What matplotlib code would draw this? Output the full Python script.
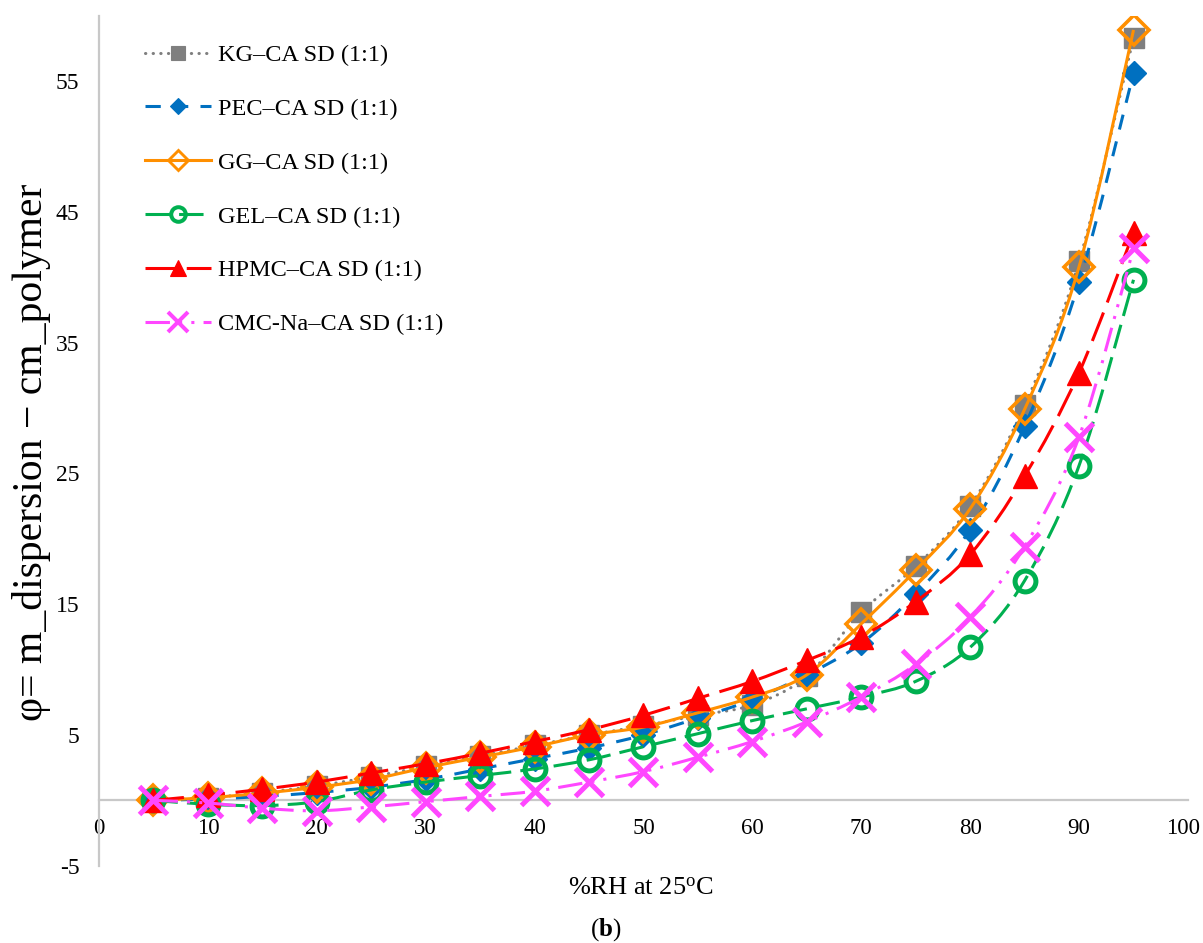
import numpy as np
import matplotlib
matplotlib.use('Agg')
import matplotlib.pyplot as plt
from matplotlib.path import Path
from matplotlib.patches import PathPatch
from matplotlib.lines import Line2D
from matplotlib.transforms import ScaledTranslation

# ---------------- data ----------------
rh = [5, 10, 15, 20, 25, 30, 35, 40, 45, 50, 55, 60, 65, 70, 75, 80, 85, 90, 95]
kg = [0, 0.2, 0.6, 1.1, 1.8, 2.6, 3.4, 4.2, 5.0, 5.7, 6.5, 7.3, 9.5, 14.4, 17.9, 22.5, 30.2, 41.2, 58.3]
pec = [0, 0.1, 0.3, 0.6, 1.0, 1.6, 2.4, 3.2, 4.0, 5.0, 6.3, 7.7, 9.6, 12.0, 15.8, 20.7, 28.6, 39.6, 55.6]
gg = [0, 0.2, 0.55, 1.0, 1.6, 2.5, 3.3, 4.1, 5.0, 5.6, 6.7, 7.9, 9.6, 13.5, 17.6, 22.3, 29.9, 40.8, 58.9]
gel = [0, -0.3, -0.4, -0.1, 0.8, 1.4, 1.9, 2.4, 3.1, 4.1, 5.1, 6.1, 7.0, 7.9, 9.1, 11.7, 16.8, 25.6, 39.8]
hpmc = [0, 0.4, 0.85, 1.4, 2.1, 2.8, 3.6, 4.5, 5.4, 6.5, 7.8, 9.1, 10.7, 12.5, 15.2, 18.8, 24.8, 32.7, 43.4]
cmc = [0, -0.2, -0.6, -0.8, -0.5, -0.1, 0.3, 0.7, 1.4, 2.2, 3.3, 4.5, 6.0, 7.9, 10.4, 14.0, 19.4, 27.8, 42.2]

labels = ["KG\u2013CA SD (1:1)", "PEC\u2013CA SD (1:1)", "GG\u2013CA SD (1:1)",
          "GEL\u2013CA SD (1:1)", "HPMC\u2013CA SD (1:1)", "CMC-Na\u2013CA SD (1:1)"]
x_ticks = [0, 10, 20, 30, 40, 50, 60, 70, 80, 90, 100]
y_ticks = [-5, 5, 15, 25, 35, 45, 55]

# ---------------- style ----------------
plt.rcParams['font.family'] = ['Liberation Serif', 'DejaVu Serif']
plt.rcParams['mathtext.fontset'] = 'custom'
plt.rcParams['mathtext.rm'] = 'Liberation Serif'
plt.rcParams['mathtext.bf'] = 'Liberation Serif:bold'
plt.rcParams['mathtext.it'] = 'Liberation Serif:italic'
plt.rcParams['axes.unicode_minus'] = False

styles = [
    dict(color='#7F7F7F', ls=(0, (0.1, 2.4)), cap='round', marker='s', ms=14, mfc='#7F7F7F', mec='#7F7F7F', mew=1),
    dict(color='#0070C0', ls=(0, (5, 4)), cap='butt', marker='D', ms=12, mfc='#0070C0', mec='#0070C0', mew=1),
    dict(color='#FF8F00', ls='-', cap='butt', marker='D', ms=15, mfc='none', mec='#FF8F00', mew=2.6),
    dict(color='#00B050', ls=(0, (8, 3)), cap='butt', marker='o', ms=15, mfc='none', mec='#00B050', mew=3.6),
    dict(color='#FF0000', ls=(0, (10, 3.5)), cap='butt', marker='^', ms=17, mfc='#FF0000', mec='#FF0000', mew=1),
    dict(color='#FF47FF', ls=(0, (8, 3, 1, 3, 1, 3)), cap='butt', marker='x', ms=20, mfc='#FF47FF', mec='#FF47FF', mew=3.6),
]
series = [kg, pec, gg, gel, hpmc, cmc]
LW = 2.2


def smooth_path(x, y):
    pts = np.column_stack([x, y]).astype(float)
    n = len(pts)
    verts = [pts[0]]
    codes = [Path.MOVETO]
    for i in range(n - 1):
        p0 = pts[i - 1] if i > 0 else pts[i]
        p1 = pts[i]
        p2 = pts[i + 1]
        p3 = pts[i + 2] if i + 2 < n else pts[i + 1]
        verts += [p1 + (p2 - p0) / 6.0, p2 - (p3 - p1) / 6.0, p2]
        codes += [Path.CURVE4] * 3
    return Path(verts, codes)


fig = plt.figure(figsize=(12.03, 9.43), dpi=100)
ax = fig.add_axes([0.0823, 0.0819, 0.9052, 0.9016])

for i, (vals, st) in enumerate(zip(series, styles)):
    z = 2 + i
    patch = PathPatch(smooth_path(rh, vals), fill=False, edgecolor=st['color'],
                      lw=LW, linestyle=st['ls'], zorder=z)
    patch.set_capstyle(st['cap'])
    ax.add_patch(patch)
    ax.plot(rh, vals, linestyle='none', marker=st['marker'], ms=st['ms'],
            mfc=st['mfc'], mec=st['mec'], mew=st['mew'], zorder=z + 0.5)

ax.set_xlim(0, 100)
ax.set_ylim(-5, 60)
ax.set_xticks(x_ticks)
ax.set_yticks(y_ticks)
ax.tick_params(axis='y', length=0, labelsize=17, colors='#000000', pad=14)
ax.tick_params(axis='x', length=0, labelsize=16.5, colors='#000000', pad=13)

for s in ['top', 'right']:
    ax.spines[s].set_visible(False)
ax.spines['bottom'].set_position(('data', 0))
ax.spines['bottom'].set_color('#C8C8C8')
ax.spines['bottom'].set_linewidth(1.6)
ax.spines['left'].set_color('#C8C8C8')
ax.spines['left'].set_linewidth(1.6)

# keep the last x tick label ("100") inside the canvas, as in the reference
fig.canvas.draw()
last = ax.get_xticklabels()[-1]
last.set_transform(last.get_transform() + ScaledTranslation(-5 / 100, 0, fig.dpi_scale_trans))

ax.set_ylabel("\u03c6= m_dispersion \u2212 cm_polymer", fontsize=30)
ax.yaxis.set_label_coords(-0.044, 0.486)

fig.text(641 / 1203, 1 - 889 / 943, r'%RH at 25$^{\mathrm{o}}$C', ha='center', va='center', fontsize=19)
fig.text(606 / 1203, 1 - 930 / 943, r'($\mathbf{b}$)', ha='center', va='center', fontsize=18)

handles = []
for st in styles:
    h = Line2D([], [], color=st['color'], lw=LW, linestyle=st['ls'], marker=st['marker'],
               ms=st['ms'] * 0.7, mfc=st['mfc'], mec=st['mec'], mew=st['mew'] * 0.8,
               dash_capstyle=st['cap'])
    handles.append(h)
ax.legend(handles, labels, loc='upper left', bbox_to_anchor=(145 / 1203, 1 - 44 / 943),
          bbox_transform=fig.transFigure, frameon=False, fontsize=17.5, handlelength=2.7,
          handletextpad=0.3, labelspacing=1.31, borderpad=0, borderaxespad=0)

fig.savefig('out.png', dpi=100)
